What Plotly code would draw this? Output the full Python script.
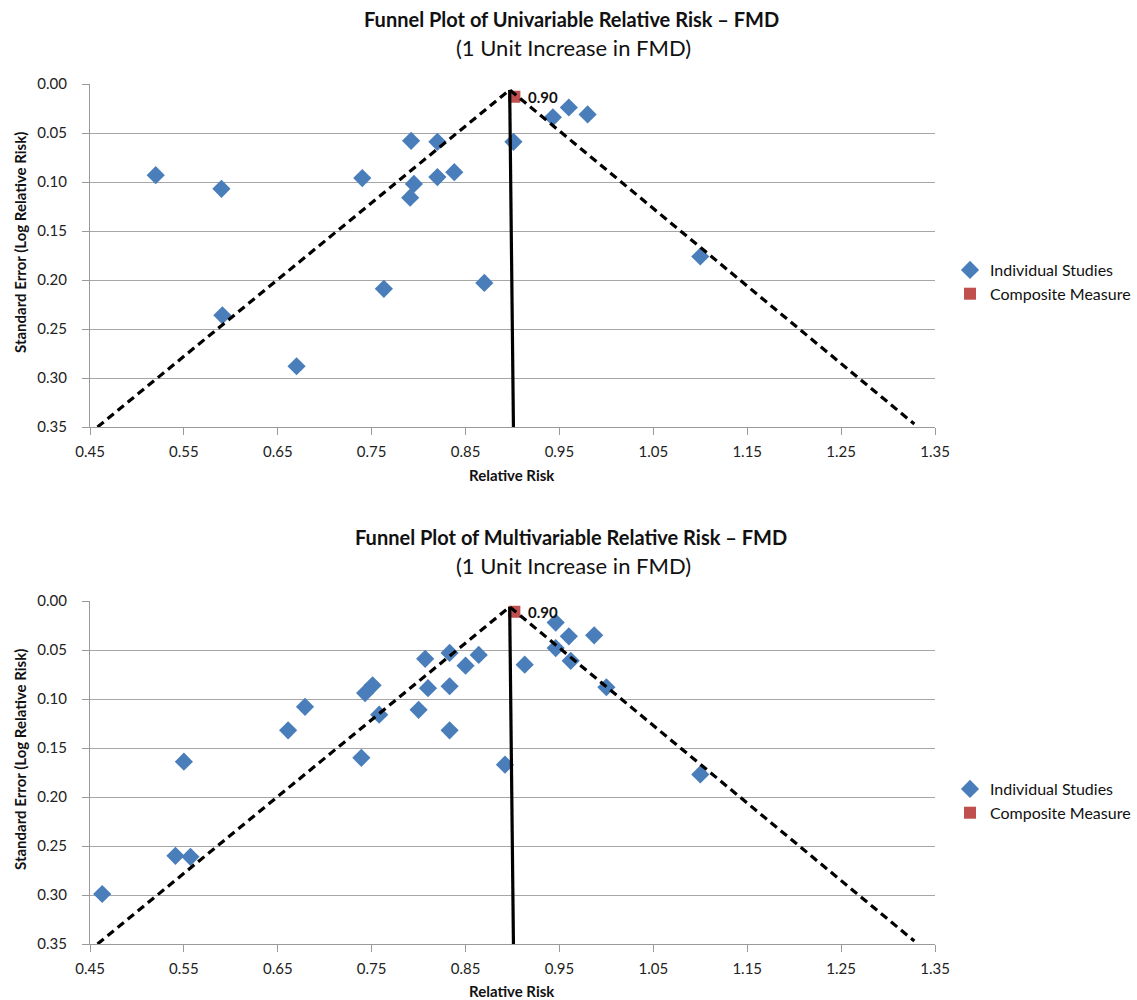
import plotly.graph_objects as go

# ---------------- data ----------------
uni_rr = [0.520, 0.590, 0.591, 0.670, 0.740, 0.763, 0.792, 0.795, 0.791, 0.820,
          0.820, 0.838, 0.870, 0.901, 0.943, 0.960, 0.980, 1.100]
uni_se = [0.093, 0.107, 0.236, 0.288, 0.096, 0.209, 0.058, 0.102, 0.116, 0.059,
          0.095, 0.090, 0.203, 0.059, 0.034, 0.024, 0.031, 0.176]

multi_rr = [0.463, 0.541, 0.557, 0.550, 0.661, 0.679, 0.739, 0.743, 0.751, 0.758,
            0.800, 0.807, 0.810, 0.833, 0.833, 0.833, 0.850, 0.864, 0.892, 0.913,
            0.946, 0.960, 0.987, 0.946, 0.962, 1.000, 1.100]
multi_se = [0.299, 0.260, 0.261, 0.164, 0.132, 0.108, 0.160, 0.094, 0.086, 0.116,
            0.111, 0.059, 0.089, 0.132, 0.087, 0.053, 0.066, 0.055, 0.167, 0.065,
            0.022, 0.036, 0.035, 0.048, 0.061, 0.088, 0.177]

uni_comp_rr, uni_comp_se = [0.902], [0.013]
multi_comp_rr, multi_comp_se = [0.902], [0.011]

funnel_x = [0.458, 0.897, 1.328]
funnel_y = [0.350, 0.006, 0.347]
center_x = [0.897, 0.901]
center_y = [0.006, 0.350]

titles = ["Funnel Plot of Univariable Relative Risk \u2013 FMD",
          "Funnel Plot of Multivariable Relative Risk \u2013 FMD"]
subtitle = "(1 Unit Increase in FMD)"
x_title = "Relative Risk"
y_title = "Standard Error (Log Relative Risk)"

# ---------------- figure ----------------
W, H = 1137, 1000
FONT = "Lato"
BLUE = "#4a7ebb"
RED = "#c0504d"


def xp(px):
    return px / W


def yp(py):
    return 1 - py / H


fig = go.Figure()

panels = [
    dict(rr=uni_rr, se=uni_se, crr=uni_comp_rr, cse=uni_comp_se, xa="x", ya="y", leg="legend",
         top=84, bot=427, title_y=19, sub_y=47, xt_y=475, yt_y=243, leg_top=253),
    dict(rr=multi_rr, se=multi_se, crr=multi_comp_rr, cse=multi_comp_se, xa="x2", ya="y2", leg="legend2",
         top=601, bot=944, title_y=537, sub_y=565, xt_y=991, yt_y=760, leg_top=772),
]

for p in panels:
    fig.add_trace(go.Scatter(x=p["rr"], y=p["se"], mode="markers", name="Individual Studies",
                             marker=dict(symbol="diamond", size=14, color=BLUE),
                             xaxis=p["xa"], yaxis=p["ya"], legend=p["leg"]))
    fig.add_trace(go.Scatter(x=p["crr"], y=p["cse"], mode="markers", name="Composite Measure",
                             marker=dict(symbol="square", size=12, color=RED),
                             xaxis=p["xa"], yaxis=p["ya"], legend=p["leg"]))
    fig.add_trace(go.Scatter(x=funnel_x, y=funnel_y, mode="lines", showlegend=False,
                             line=dict(color="black", width=3.2, dash="8px,5px"),
                             xaxis=p["xa"], yaxis=p["ya"], hoverinfo="skip"))
    fig.add_trace(go.Scatter(x=center_x, y=center_y, mode="lines", showlegend=False,
                             line=dict(color="black", width=3.2),
                             xaxis=p["xa"], yaxis=p["ya"], hoverinfo="skip"))

TICKFONT = dict(family=FONT, size=15, color="#222")


def xaxis_cfg(anchor):
    return dict(domain=[xp(90), xp(935)], range=[0.45, 1.35], tick0=0.45, dtick=0.1, tickformat=".2f",
                showgrid=False, zeroline=False, showline=True, linecolor="#9a9a9a", linewidth=1,
                ticks="outside", ticklen=7, tickcolor="#9a9a9a", ticklabelstandoff=4,
                tickfont=TICKFONT, automargin=False, anchor=anchor)


def yaxis_cfg(top, bot, anchor):
    return dict(domain=[yp(bot), yp(top)], range=[0.35, 0], tick0=0, dtick=0.05,
                tickformat=".2f", showgrid=True, gridcolor="#a6a6a6", gridwidth=1,
                zeroline=False, showline=True, linecolor="#9a9a9a", linewidth=1,
                ticks="outside", ticklen=7, tickcolor="#9a9a9a", ticklabelstandoff=12,
                tickfont=TICKFONT, automargin=False, anchor=anchor)


LEGFONT = dict(family=FONT, size=16, color="#111")
fig.update_layout(
    width=W, height=H,
    margin=dict(l=0, r=0, t=0, b=0, autoexpand=False),
    paper_bgcolor="white", plot_bgcolor="white",
    font=dict(family=FONT, color="#111"),
    xaxis=xaxis_cfg("y"),
    yaxis=yaxis_cfg(84, 427, "x"),
    xaxis2=xaxis_cfg("y2"),
    yaxis2=yaxis_cfg(601, 944, "x2"),
    legend=dict(x=xp(950), y=yp(panels[0]["leg_top"]), xanchor="left", yanchor="top",
                itemwidth=30, font=LEGFONT, bgcolor="rgba(0,0,0,0)"),
    legend2=dict(x=xp(950), y=yp(panels[1]["leg_top"]), xanchor="left", yanchor="top",
                 itemwidth=30, font=LEGFONT, bgcolor="rgba(0,0,0,0)"),
    showlegend=True,
)

annotations = []
for i, p in enumerate(panels):
    annotations.append(dict(text="<b>" + titles[i] + "</b>", x=xp(571), y=yp(p["title_y"]),
                            xref="paper", yref="paper", showarrow=False,
                            xanchor="center", yanchor="middle",
                            font=dict(family=FONT, size=20, color="#111")))
    annotations.append(dict(text=subtitle, x=xp(573), y=yp(p["sub_y"]), xref="paper", yref="paper",
                            showarrow=False, xanchor="center", yanchor="middle",
                            font=dict(family=FONT, size=22, color="#111")))
    annotations.append(dict(text="<b>" + x_title + "</b>", x=xp(512), y=yp(p["xt_y"]),
                            xref="paper", yref="paper", showarrow=False,
                            xanchor="center", yanchor="middle",
                            font=dict(family=FONT, size=15, color="#111")))
    annotations.append(dict(text="<b>" + y_title + "</b>", x=xp(20), y=yp(p["yt_y"]),
                            xref="paper", yref="paper", showarrow=False, textangle=-90,
                            xanchor="center", yanchor="middle",
                            font=dict(family=FONT, size=15, color="#111")))
    annotations.append(dict(text="<b>%.2f</b>" % p["crr"][0], x=p["crr"][0], y=p["cse"][0],
                            xref=p["xa"], yref=p["ya"], showarrow=False, xanchor="left",
                            yanchor="middle", xshift=12,
                            font=dict(family=FONT, size=15, color="#111")))

fig.update_layout(annotations=annotations)

# remove the default 8px page margin so the 1137x1000 figure fills the window exactly
fig.write_html("out.html",
               config={"displayModeBar": False},
               post_script="document.body.style.margin='0';document.body.style.overflow='hidden';")
